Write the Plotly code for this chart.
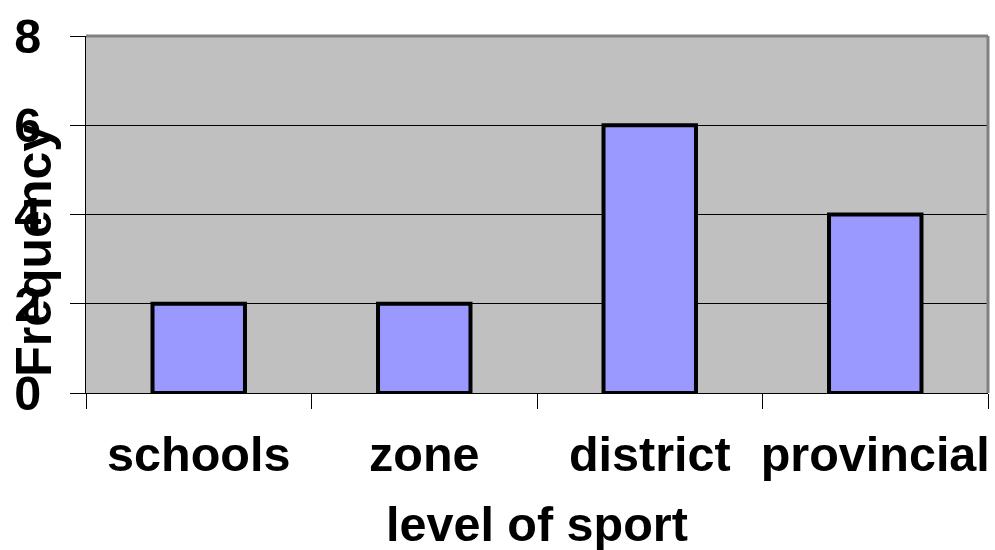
import plotly.graph_objects as go

categories = ["schools", "zone", "district", "provincial"]
frequency = [2, 2, 6, 4]
y_ticks = [0, 2, 4, 6, 8]

FONT = "Liberation Sans, Arial, sans-serif"
FS = 48.5

fig = go.Figure()
fig.add_trace(go.Bar(
    x=categories, y=frequency,
    marker=dict(color="#9999FF", line=dict(color="black", width=4)),
    width=0.41,
))

fig.update_layout(
    width=995, height=550,
    margin=dict(l=86, r=7, t=36, b=157, autoexpand=False),
    paper_bgcolor="white",
    plot_bgcolor="#C0C0C0",
    showlegend=False,
    font=dict(family=FONT, size=FS, color="black", weight="bold"),
)
fig.update_xaxes(
    range=[-0.5, 3.5], automargin=False, tickangle=0,
    tickson="boundaries", ticks="outside", ticklen=15, tickcolor="black", tickwidth=1,
    showline=True, linecolor="black", linewidth=1,
    showgrid=False,
    tickfont=dict(family=FONT, size=FS, color="black", weight="bold"),
    ticklabelstandoff=19,
)
fig.update_yaxes(
    range=[0, 8], tickvals=y_ticks, ticktext=[str(v) for v in y_ticks],
    automargin=False,
    ticks="outside", ticklen=15, tickcolor="black", tickwidth=1,
    showline=True, linecolor="black", linewidth=1,
    showgrid=True, gridcolor="black", gridwidth=1,
    zeroline=False,
    tickfont=dict(family=FONT, size=FS, color="black", weight="bold"),
    ticklabelstandoff=19,
)
# grey border on top and right
fig.add_shape(type="line", xref="x domain", yref="y domain", x0=0, x1=1, y0=1, y1=1,
              line=dict(color="#808080", width=3))
fig.add_shape(type="line", xref="x domain", yref="y domain", x0=1, x1=1, y0=0, y1=1,
              line=dict(color="#808080", width=3))

fig.add_annotation(text="Frequency", xref="paper", yref="paper",
                   x=-0.057, y=0.40, yanchor="middle", xanchor="center",
                   textangle=-90, showarrow=False,
                   font=dict(family=FONT, size=50, color="black", weight="bold"))
fig.add_annotation(text="level of sport", xref="paper", yref="paper",
                   x=0.5, y=0, yanchor="middle", xanchor="center", yshift=-131,
                   showarrow=False,
                   font=dict(family=FONT, size=FS, color="black", weight="bold"))

fig.write_html("out.html", config={"displayModeBar": False},
               post_script="document.body.style.margin='0';document.body.style.overflow='hidden';")
